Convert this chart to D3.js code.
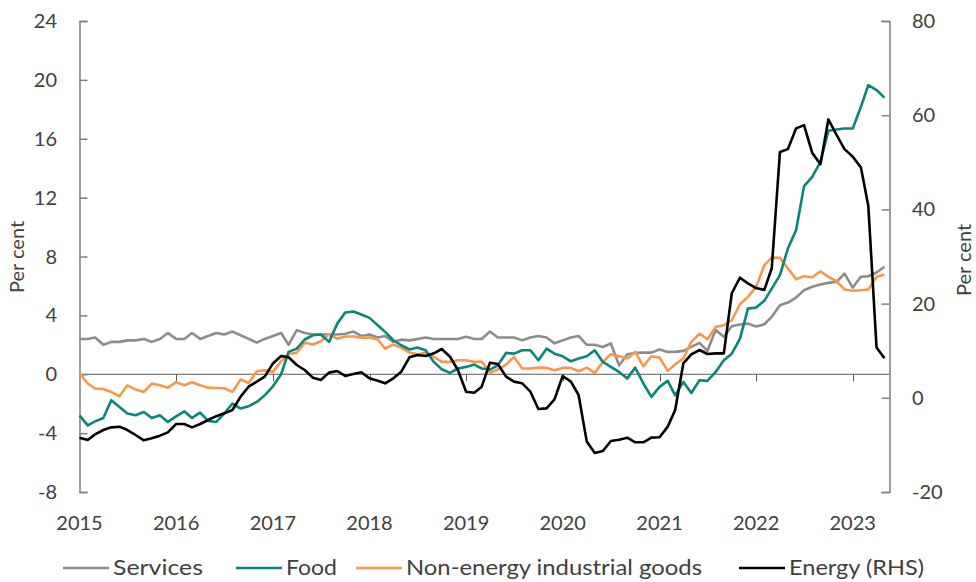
<!DOCTYPE html>
<html>
<head>
<meta charset="utf-8">
<script src="https://cdn.jsdelivr.net/npm/d3@7/dist/d3.min.js"></script>
<style>
  html, body { margin: 0; padding: 0; background: #ffffff; }
  svg { display: block; }
  text { font-family: Lato, "Open Sans", "DejaVu Sans", sans-serif; fill: #404040; }
</style>
</head>
<body>
<svg id="chart" width="976" height="582"></svg>
<script>
// ---------- data (monthly, Jan 2015 - May 2023, year-on-year % change) ----------
const startMonth = new Date(2015, 0, 1);
const endMonth = new Date(2023, 5, 1);

const services = [
  2.4, 2.4, 2.5, 2.0, 2.2, 2.2, 2.3, 2.3, 2.4, 2.2, 2.4, 2.8,
  2.4, 2.4, 2.8, 2.4, 2.6, 2.8, 2.7, 2.9, 2.65, 2.4, 2.15, 2.4,
  2.6, 2.8, 2.0, 3.0, 2.8, 2.7, 2.7, 2.7, 2.7, 2.75, 2.9, 2.6,
  2.7, 2.5, 2.6, 2.2, 2.35, 2.3, 2.4, 2.5, 2.4, 2.4, 2.4, 2.4,
  2.55, 2.4, 2.4, 2.9, 2.5, 2.5, 2.5, 2.3, 2.5, 2.6, 2.5, 2.1,
  2.3, 2.5, 2.6, 2.0, 2.0, 1.85, 2.1, 0.6, 1.36, 1.45, 1.47, 1.47,
  1.68, 1.52, 1.52, 1.59, 1.86, 2.13, 1.59, 3.0, 2.54, 3.26, 3.38, 3.44,
  3.24, 3.4, 3.9, 4.69, 4.87, 5.21, 5.71, 5.94, 6.1, 6.21, 6.28, 6.84,
  5.89, 6.62, 6.66, 6.91, 7.3
];
const food = [
  -2.79, -3.47, -3.2, -2.97, -1.77, -2.22, -2.67, -2.79, -2.56, -2.97, -2.79, -3.24,
  -2.86, -2.52, -2.97, -2.61, -3.17, -3.24, -2.67, -1.99, -2.33, -2.18, -1.88, -1.43,
  -0.82, 0.0, 1.52, 1.74, 2.36, 2.65, 2.7, 2.2, 3.44, 4.19, 4.26, 4.06,
  3.83, 3.33, 2.88, 2.31, 1.97, 1.68, 1.81, 1.63, 0.84, 0.34, 0.09, 0.39,
  0.5, 0.66, 0.39, 0.32, 0.61, 1.45, 1.4, 1.63, 1.63, 0.95, 1.74, 1.4,
  1.22, 0.88, 1.07, 1.22, 1.63, 0.84, 0.5, 0.16, -0.29, 0.45, -0.63, -1.54,
  -0.86, -0.45, -1.43, -0.52, -1.27, -0.41, -0.45, 0.16, 0.95, 1.4, 2.42, 4.46,
  4.53, 4.99, 5.82, 6.73, 8.54, 9.79, 12.78, 13.41, 14.43, 16.54, 16.63, 16.7,
  16.7, 18.17, 19.65, 19.31, 18.79
];
const neig = [
  0.09, -0.63, -0.97, -1.0, -1.2, -1.5, -0.75, -1.04, -1.2, -0.63, -0.75, -0.91,
  -0.54, -0.75, -0.54, -0.75, -0.91, -0.93, -0.95, -1.2, -0.36, -0.59, 0.2, 0.27,
  0.16, 0.88, 1.36, 1.47, 2.15, 2.02, 2.24, 2.7, 2.42, 2.56, 2.56, 2.49,
  2.49, 2.36, 1.74, 2.02, 1.79, 1.47, 1.36, 1.45, 1.18, 0.84, 0.84, 0.95,
  0.95, 0.84, 0.87, 0.1, 0.32, 0.66, 1.18, 0.39, 0.39, 0.45, 0.43, 0.27,
  0.43, 0.43, 0.2, 0.45, 0.09, 0.84, 1.36, 1.22, 1.07, 1.52, 0.54, 1.22,
  1.13, 0.23, 0.68, 1.07, 2.2, 2.76, 2.38, 3.22, 3.33, 3.67, 4.76, 5.26,
  5.94, 7.41, 7.93, 7.91, 7.18, 6.46, 6.66, 6.59, 7.0, 6.62, 6.32, 5.76,
  5.67, 5.71, 5.76, 6.62, 6.78
];
const energy = [
  -8.46, -8.96, -7.76, -6.84, -6.27, -6.13, -6.84, -7.9, -9.03, -8.6, -8.04, -7.33,
  -5.56, -5.56, -6.27, -5.56, -4.71, -3.9, -3.3, -2.6, 0.24, 2.36, 3.43, 4.49,
  7.3, 8.87, 8.6, 6.96, 5.9, 4.27, 3.78, 5.34, 5.69, 4.65, 5.05, 5.41,
  4.13, 3.64, 3.07, 4.13, 5.55, 8.59, 9.09, 8.87, 9.44, 10.36, 8.73, 5.9,
  1.3, 1.09, 2.36, 7.46, 7.18, 4.49, 3.43, 3.07, 1.3, -2.38, -2.24, -0.33,
  4.63, 3.43, 0.59, -9.3, -11.7, -11.3, -9.17, -8.9, -8.46, -9.45, -9.45, -8.46,
  -8.39, -6.12, -2.6, 7.32, 9.23, 10.15, 9.3, 9.44, 9.44, 22.2, 25.5, 24.3,
  23.3, 22.9, 27.5, 52.2, 52.8, 57.2, 57.9, 52.0, 49.6, 59.1, 55.8, 52.8,
  51.2, 48.9, 40.7, 10.7, 8.4
];

const leftTicks = [-8, -4, 0, 4, 8, 12, 16, 20, 24];
const rightTicks = [-20, 0, 20, 40, 60, 80];
const yearLabels = ["2015", "2016", "2017", "2018", "2019", "2020", "2021", "2022", "2023"];
const axisTitle = "Per cent";
const seriesNames = ["Services", "Food", "Non-energy industrial goods", "Energy (RHS)"];

// ---------- layout ----------
const plot = { left: 79.5, right: 889.5, top: 21, bottom: 492 };
const colors = { services: "#8c8c8c", food: "#0a857a", neig: "#f7984a", energy: "#000000" };
const axisColor = "#7f7f7f";
const textColor = "#404040";
const fontSize = 20;

const months = d3.timeMonth.range(startMonth, endMonth);

const svg = d3.select("#chart");

const x = d3.scaleTime()
  .domain([new Date(2015, 0, 1), new Date(2023, 4, 20)])
  .range([plot.left, plot.right]);
const yL = d3.scaleLinear().domain([-8, 24]).range([plot.bottom, plot.top]);
const yR = d3.scaleLinear().domain([-20, 80]).range([plot.bottom, plot.top]);

// zero line
svg.append("line")
  .attr("x1", plot.left).attr("x2", plot.right)
  .attr("y1", yL(0)).attr("y2", yL(0))
  .attr("stroke", "#595959").attr("stroke-width", 1);

// x ticks (on zero line, pointing down) and year labels at the bottom
const yearDates = yearLabels.map(y => new Date(+y, 0, 1));
svg.append("g").selectAll("line").data(yearDates.slice(1)).join("line")
  .attr("x1", d => Math.round(x(d)) + 0.5).attr("x2", d => Math.round(x(d)) + 0.5)
  .attr("y1", yL(0)).attr("y2", yL(0) + 7)
  .attr("stroke", "#595959").attr("stroke-width", 1);

svg.append("g").selectAll("text").data(yearDates).join("text")
  .attr("x", d => x(d)).attr("y", 530)
  .attr("text-anchor", "middle")
  .attr("font-size", fontSize)
  .style("fill", textColor)
  .text((d, i) => yearLabels[i]);

// left axis
const leftAxis = d3.axisRight(yL).tickValues(leftTicks).tickSize(8).tickFormat("");
const gL = svg.append("g").attr("transform", `translate(${plot.left},0)`).call(leftAxis);
gL.select(".domain").attr("stroke", axisColor).attr("stroke-width", 1.5);
gL.selectAll(".tick line").attr("stroke", axisColor).attr("stroke-width", 1.5);
svg.append("g").selectAll("text").data(leftTicks).join("text")
  .attr("x", 57).attr("y", d => yL(d))
  .attr("dy", "0.35em")
  .attr("text-anchor", "end")
  .attr("font-size", fontSize)
  .style("fill", textColor)
  .text(d => d);

// right axis
const rightAxis = d3.axisLeft(yR).tickValues(rightTicks).tickSize(8).tickFormat("");
const gR = svg.append("g").attr("transform", `translate(${plot.right},0)`).call(rightAxis);
gR.select(".domain").attr("stroke", axisColor).attr("stroke-width", 1.5);
gR.selectAll(".tick line").attr("stroke", axisColor).attr("stroke-width", 1.5);
svg.append("g").selectAll("text").data(rightTicks).join("text")
  .attr("x", 912).attr("y", d => yR(d))
  .attr("dy", "0.35em")
  .attr("text-anchor", "start")
  .attr("font-size", fontSize)
  .style("fill", textColor)
  .text(d => d);

// axis titles
svg.append("text")
  .attr("transform", "translate(24,257) rotate(-90)")
  .attr("text-anchor", "middle")
  .attr("font-size", fontSize)
  .style("fill", textColor)
  .text(axisTitle);
svg.append("text")
  .attr("transform", "translate(971,260) rotate(-90)")
  .attr("text-anchor", "middle")
  .attr("font-size", fontSize)
  .style("fill", textColor)
  .text(axisTitle);

// lines
const lineL = d3.line().x((d, i) => x(months[i])).y(d => yL(d));
const lineR = d3.line().x((d, i) => x(months[i])).y(d => yR(d));

const seriesDefs = [
  { data: services, gen: lineL, color: colors.services },
  { data: neig, gen: lineL, color: colors.neig },
  { data: food, gen: lineL, color: colors.food },
  { data: energy, gen: lineR, color: colors.energy }
];
svg.append("g").selectAll("path").data(seriesDefs).join("path")
  .attr("d", d => d.gen(d.data))
  .attr("fill", "none")
  .attr("stroke", d => d.color)
  .attr("stroke-width", 2.6)
  .attr("stroke-linejoin", "round");

// legend
const legendColors = [colors.services, colors.food, colors.neig, colors.energy];
const legendStart = [63, 236, 356, 739];
const legendTextWidth = [90, 51, 296, 135];
const lg = svg.append("g");
seriesNames.forEach((name, i) => {
  const x0 = legendStart[i];
  lg.append("line")
    .attr("x1", x0).attr("x2", x0 + 46)
    .attr("y1", 568).attr("y2", 568)
    .attr("stroke", legendColors[i]).attr("stroke-width", 2.6);
  lg.append("text")
    .attr("x", x0 + 50).attr("y", 568)
    .attr("dy", "0.35em")
    .attr("font-size", 21)
    .attr("textLength", legendTextWidth[i])
    .attr("lengthAdjust", "spacingAndGlyphs")
    .style("fill", textColor)
    .text(name);
});
</script>
</body>
</html>
